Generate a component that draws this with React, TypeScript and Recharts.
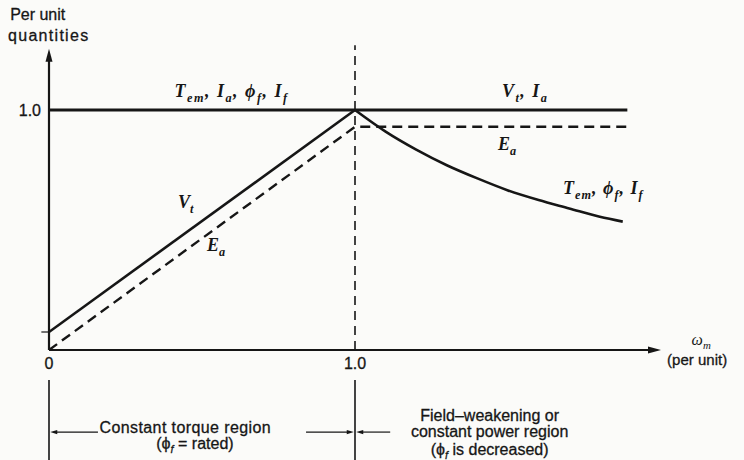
import { LineChart, Line, XAxis, YAxis, ReferenceLine, ReferenceDot } from "recharts"

// per-unit speed (x) against per-unit quantity (y) for each curve
const ratedSpeed = [0, 1.89]
const ratedLevel = [1.0, 1.0]

const vtSpeed = [0, 1.0]
const vtLevel = [0.075, 1.0]

const eaSpeed = [0, 1.0, 1.9]
const eaLevel = [0, 0.93, 0.93]

const torqueSpeed = [1.0, 1.1, 1.2, 1.3, 1.4, 1.5, 1.6, 1.7, 1.8, 1.875]
const torqueLevel = [1.0, 0.91, 0.835, 0.77, 0.715, 0.665, 0.625, 0.59, 0.555, 0.535]

const xTicks = [0, 1]
const yTicks = [1]

const INK = "#161616"
const SERIF = "'Liberation Serif', 'DejaVu Serif', serif"
const SANS = "'Liberation Sans', Arial, sans-serif"

const toRows = (xs: number[], ys: number[]) => xs.map((w, i) => ({ w, q: ys[i] }))

// "T_{em}, I_{a}" -> base / subscript chunks
function splitSubs(s: string) {
  const out: { text: string; sub: boolean }[] = []
  const re = /_\{([^}]*)\}/g
  let last = 0
  let m: RegExpExecArray | null
  while ((m = re.exec(s))) {
    if (m.index > last) out.push({ text: s.slice(last, m.index), sub: false })
    out.push({ text: m[1], sub: true })
    last = re.lastIndex
  }
  if (last < s.length) out.push({ text: s.slice(last), sub: false })
  return out
}

type NoteOpts = {
  math?: boolean
  anchor?: "start" | "middle" | "end"
  size?: number
  spacing?: number
  bold?: boolean
}

function note(key: string, x: number, y: number, text: string, opts: NoteOpts = {}) {
  const { math = false, anchor = "start", size = math ? 18 : 16, spacing = 0, bold = math } = opts
  const parts = splitSubs(text)
  const shift = Math.round(size * 0.28)
  return (
    <ReferenceDot
      key={key}
      x={x}
      y={y}
      r={0}
      ifOverflow="visible"
      shape={(p: any) => (
        <text
          x={p.cx}
          y={p.cy}
          textAnchor={anchor}
          fill={INK}
          stroke={math ? "none" : INK}
          strokeWidth={math ? 0 : 0.3}
          fontFamily={math ? SERIF : SANS}
          fontStyle={math ? "italic" : "normal"}
          fontWeight={bold ? 700 : 400}
          fontSize={size}
          letterSpacing={spacing}
        >
          {parts.map((part, i) => {
            const prevSub = i > 0 && parts[i - 1].sub
            const dy = part.sub ? shift : prevSub ? -shift : 0
            return (
              <tspan
                key={i}
                dy={dy}
                fontSize={part.sub ? size * 0.68 : size}
                fontStyle={part.sub || math ? "italic" : "normal"}
              >
                {part.text}
              </tspan>
            )
          })}
        </text>
      )}
    />
  )
}

// plain line with a filled head at (x2, y2)
const arrow = (len: number, half: number, width: number) => (p: any) => {
  const { x1, y1, x2, y2 } = p
  const dx = x2 - x1
  const dy = y2 - y1
  const d = Math.hypot(dx, dy) || 1
  const ux = dx / d
  const uy = dy / d
  const bx = x2 - ux * len
  const by = y2 - uy * len
  const pts = `${x2},${y2} ${bx - uy * half},${by + ux * half} ${bx + uy * half},${by - ux * half}`
  return (
    <g>
      <line x1={x1} y1={y1} x2={bx + ux} y2={by + uy} stroke={INK} strokeWidth={width} />
      <polygon points={pts} fill={INK} />
    </g>
  )
}

const plainLine = (width: number, dash?: string) => (p: any) => (
  <line x1={p.x1} y1={p.y1} x2={p.x2} y2={p.y2} stroke={INK} strokeWidth={width} strokeDasharray={dash} />
)

export default function App() {
  return (
    <div style={{ position: "absolute", left: 0, top: 0, width: 744, height: 460, background: "#fbfbf9" }}>
      <LineChart width={744} height={460} margin={{ top: 50, right: 83, bottom: 80, left: 0 }}>
        <XAxis
          type="number"
          dataKey="w"
          domain={[0, 2]}
          ticks={xTicks}
          tickFormatter={(v: number) => (v === 0 ? "0" : v.toFixed(1))}
          axisLine={false}
          tickLine={false}
          tick={{ fill: INK, fontSize: 16, fontFamily: SANS, stroke: INK, strokeWidth: 0.3 }}
          allowDataOverflow
        />
        <YAxis
          type="number"
          domain={[0, 1.25]}
          ticks={yTicks}
          tickFormatter={(v: number) => v.toFixed(1)}
          axisLine={false}
          tickLine={false}
          width={49}
          tick={{ fill: INK, fontSize: 16, fontFamily: SANS, stroke: INK, strokeWidth: 0.3 }}
          allowDataOverflow
        />

        {/* axes with arrow heads */}
        <ReferenceLine segment={[{ x: 0, y: 0 }, { x: 0, y: 1.255 }]} ifOverflow="visible" shape={arrow(13, 3.5, 2.2)} />
        <ReferenceLine segment={[{ x: 0, y: 0 }, { x: 2, y: 0 }]} ifOverflow="visible" shape={arrow(13, 3.5, 2)} />
        <ReferenceLine segment={[{ x: -0.025, y: 0.075 }, { x: 0, y: 0.075 }]} ifOverflow="visible" shape={plainLine(1.2)} />

        {/* base speed divider */}
        <ReferenceLine segment={[{ x: 1, y: 0 }, { x: 1, y: 1.27 }]} ifOverflow="visible" shape={plainLine(1.6, "9 6")} />

        {/* region markers below the axis */}
        <ReferenceLine segment={[{ x: 0, y: -0.125 }, { x: 0, y: -0.46 }]} ifOverflow="visible" shape={plainLine(1.6)} />
        <ReferenceLine segment={[{ x: 1, y: -0.125 }, { x: 1, y: -0.46 }]} ifOverflow="visible" shape={plainLine(1.6)} />
        <ReferenceLine segment={[{ x: 0.16, y: -0.342 }, { x: 0.004, y: -0.342 }]} ifOverflow="visible" shape={arrow(7, 2.2, 1.2)} />
        <ReferenceLine segment={[{ x: 0.84, y: -0.342 }, { x: 0.996, y: -0.342 }]} ifOverflow="visible" shape={arrow(7, 2.2, 1.2)} />
        <ReferenceLine segment={[{ x: 1.115, y: -0.342 }, { x: 1.004, y: -0.342 }]} ifOverflow="visible" shape={arrow(7, 2.2, 1.2)} />

        <Line
          data={toRows(ratedSpeed, ratedLevel)}
          dataKey="q"
          type="linear"
          stroke={INK}
          strokeWidth={2.8}
          dot={false}
          isAnimationActive={false}
        />
        <Line
          data={toRows(vtSpeed, vtLevel)}
          dataKey="q"
          type="linear"
          stroke={INK}
          strokeWidth={2.6}
          dot={false}
          isAnimationActive={false}
        />
        <Line
          data={toRows(eaSpeed, eaLevel)}
          dataKey="q"
          type="linear"
          stroke={INK}
          strokeWidth={2.4}
          strokeDasharray="10 6"
          dot={false}
          isAnimationActive={false}
        />
        <Line
          data={toRows(torqueSpeed, torqueLevel)}
          dataKey="q"
          type="monotone"
          stroke={INK}
          strokeWidth={2.6}
          dot={false}
          isAnimationActive={false}
        />

        {note("title1", -0.127, 1.375, "Per unit", { size: 16 })}
        {note("title2", -0.134, 1.2875, "quantities", { size: 16, spacing: 1.3 })}

        {note("tem-left", 0.41, 1.054, "T_{em}, I_{a}, ϕ_{f}, I_{f}", { math: true, spacing: 1.5 })}
        {note("vt-right", 1.48, 1.054, "V_{t}, I_{a}", { math: true, spacing: 1.5 })}
        {note("ea-right", 1.467, 0.833, "E_{a}", { math: true })}
        {note("tem-right", 1.68, 0.65, "T_{em}, ϕ_{f}, I_{f}", { math: true, spacing: 1 })}
        {note("vt-left", 0.4216, 0.592, "V_{t}", { math: true })}
        {note("ea-left", 0.516, 0.4125, "E_{a}", { math: true })}

        {note("wm", 2.1, 0.02, "ω_{m}", { math: true, size: 16, bold: false })}
        {note("pu", 2.02, -0.062, "(per unit)", { size: 15 })}

        {note("ct1", 0.165, -0.346, "Constant torque region", { size: 16, spacing: 0.4 })}
        {note("ct2", 0.477, -0.4125, "(ϕ_{f} = rated)", { size: 16, anchor: "middle" })}
        {note("fw1", 1.44, -0.296, "Field–weakening or", { size: 16, anchor: "middle" })}
        {note("fw2", 1.44, -0.3625, "constant power region", { size: 16, anchor: "middle" })}
        {note("fw3", 1.44, -0.4375, "(ϕ_{f} is decreased)", { size: 16, anchor: "middle" })}
      </LineChart>
    </div>
  )
}
